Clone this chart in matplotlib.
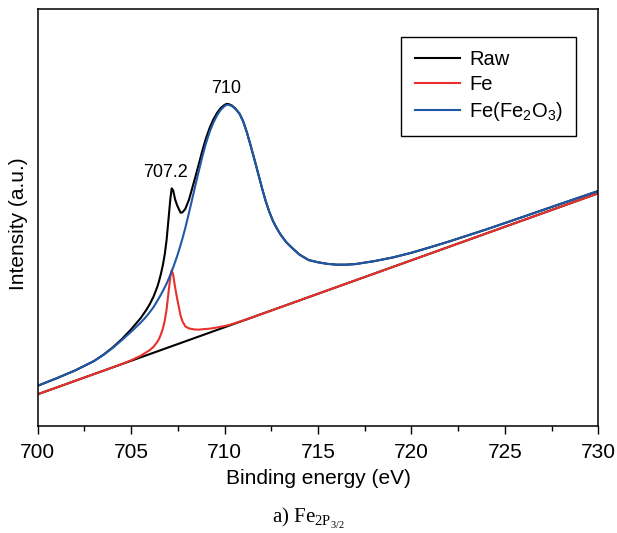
import matplotlib.pyplot as plt
from matplotlib.ticker import MultipleLocator

plt.rcParams["font.family"] = ["Liberation Sans", "DejaVu Sans"]
plt.rcParams["mathtext.fontset"] = "custom"
plt.rcParams["mathtext.rm"] = "Liberation Serif"
plt.rcParams["mathtext.sf"] = "Liberation Sans"

# Binding energy grid (eV), finer around the two peaks
energy = [
    700, 701, 702, 703, 703.5, 704, 704.5, 705, 705.5, 705.8, 706.0, 706.2, 706.4,
    706.5, 706.6, 706.7, 706.8, 706.9, 707.0, 707.1, 707.17, 707.25, 707.35,
    707.45, 707.55, 707.65, 707.75, 707.9, 708.1, 708.4, 708.6, 708.8, 709.0,
    709.2, 709.4, 709.6, 709.8, 710.0, 710.1, 710.2, 710.4, 710.6, 710.8,
    711.0, 711.2, 711.4, 711.6, 711.8, 712.0, 712.2, 712.4, 712.6, 712.8,
    713.0, 713.3, 713.6, 714.0, 714.5, 715.0, 715.5, 716.0, 716.5, 717.0,
    718.0, 719.0, 720.0, 721.0, 722.0, 724.0, 726.0, 728.0, 730.0,
]

# Measured spectrum (a.u.)
raw = [
    40.2, 47.6, 55.5, 64.8, 71.0, 78.3, 86.8, 96.7, 107.6, 115.7, 121.9, 129.4, 139.1,
    145.3, 152.6, 161.1, 171.7, 186.4, 206.8, 227.3, 237.6, 235.6, 226.8,
    221.2, 217.0, 213.2, 213.7, 217.1, 226.5, 246.5, 260.3, 274.6, 287.4,
    298.0, 306.5, 313.1, 318.1, 321.1, 322.0, 322.0, 320.4, 317.0, 312.3,
    304.5, 293.2, 280.1, 266.4, 252.3, 238.1, 224.9, 213.8, 204.6, 197.5,
    191.3, 183.8, 178.3, 171.5, 165.9, 163.7, 162.1, 161.3, 161.3, 161.9,
    164.8, 168.5, 173.2, 178.7, 184.4, 196.5, 209.3, 222.2, 235.0,
]

# Metallic Fe component on top of the background
fe = [
    31.7, 38.4, 45.1, 51.8, 55.2, 58.5, 61.9, 65.7, 70.1, 73.6, 75.9, 79.2, 84.1,
    87.3, 91.9, 97.6, 105.3, 116.9, 133.6, 149.3, 155.7, 151.3, 139.0,
    128.6, 119.3, 110.0, 104.6, 99.6, 97.5, 96.5, 96.3, 96.7, 97.0,
    97.3, 97.9, 98.5, 99.2, 99.9, 100.4, 100.8, 101.9, 103.0, 104.3,
    105.5, 106.7, 108.1, 109.4, 110.8, 112.1, 113.4, 114.8, 116.1, 117.5,
    118.8, 120.8, 122.8, 125.5, 128.9, 132.2, 135.6, 138.9, 142.3, 145.6,
    152.3, 159.0, 165.7, 172.4, 179.1, 192.5, 205.9, 219.3, 232.7,
]

# Oxide (Fe2O3) component on top of the background
fe2o3 = [
    40.2, 47.6, 55.5, 64.8, 70.8, 77.8, 85.8, 94.2, 103.1, 109.2, 113.9, 118.9, 125.1,
    128.3, 131.6, 135.1, 138.7, 142.4, 146.8, 151.3, 154.6, 158.6, 163.8,
    169.2, 175.0, 181.2, 187.7, 198.1, 213.5, 237.5, 253.3, 268.6, 282.4,
    294.0, 303.3, 310.6, 316.3, 319.9, 321.0, 321.2, 319.9, 316.7, 312.1,
    304.4, 293.2, 280.1, 266.4, 252.3, 238.1, 224.9, 213.8, 204.6, 197.5,
    191.3, 183.8, 178.3, 171.5, 165.9, 163.7, 162.1, 161.3, 161.3, 161.9,
    164.8, 168.5, 173.2, 178.7, 184.4, 196.5, 209.3, 222.2, 235.0,
]

# Linear background
bg_energy = [700, 730]
bg_intensity = [31.7, 232.7]

# Peak positions marked on the raw curve: (label, energy, intensity, x offset in pt)
peak_labels = [("707.2", 707.17, 237.6, -4.5), ("710", 710.1, 322.0, 0)]

fig = plt.figure(figsize=(6.17, 5.33), dpi=100)
ax = fig.add_axes([0.0611, 0.2008, 0.9086, 0.7818])

ax.plot(energy, raw, color="black", linewidth=1.5, label="Raw")
ax.plot(bg_energy, bg_intensity, color="black", linewidth=1.5)
ax.plot(energy, fe, color="#e8302c", linewidth=1.5, label="Fe")
ax.plot(energy, fe2o3, color="#2058a8", linewidth=1.5,
        label=r"Fe(Fe$_\mathsf{2}$O$_\mathsf{3}$)")

for text, x, y, dx in peak_labels:
    ax.annotate(text, (x, y), xytext=(dx, 5), textcoords="offset points",
                ha="center", va="bottom", fontsize=13)

ax.set_xlim(700, 730)
ax.set_ylim(0, 416.7)
ax.xaxis.set_major_locator(MultipleLocator(5))
ax.xaxis.set_minor_locator(MultipleLocator(2.5))
ax.tick_params(axis="x", which="major", direction="out", length=6, width=1,
               labelsize=15, pad=6)
ax.tick_params(axis="x", which="minor", direction="out", length=3.5, width=1)
ax.tick_params(axis="y", left=False, labelleft=False)
for spine in ax.spines.values():
    spine.set_linewidth(1.1)

ax.set_xlabel("Binding energy (eV)", fontsize=15, labelpad=5)
ax.set_ylabel("Intensity (a.u.)", fontsize=15)
ax.yaxis.set_label_coords(-0.0173, 0.485)

leg = ax.legend(loc="upper right", bbox_to_anchor=(0.960, 0.933),
                borderaxespad=0, fontsize=14.5, fancybox=False, framealpha=1,
                edgecolor="black", handlelength=2.25, handletextpad=0.45,
                labelspacing=0.3, borderpad=0.65)
leg.get_frame().set_linewidth(1.0)

fig.text(0.5, 0.019, r"a) Fe$_{\mathrm{2P}_{\mathrm{3/2}}}$", ha="center",
         va="baseline", fontsize=15, family="Liberation Serif")

fig.savefig("out.png", dpi=100)
